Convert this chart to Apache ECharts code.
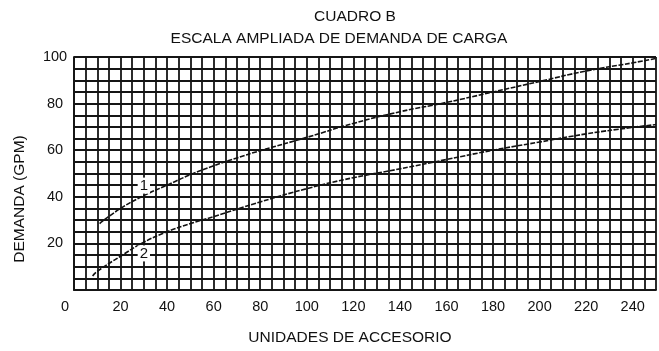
<!DOCTYPE html>
<html>
<head>
<meta charset="utf-8">
<script src="https://cdn.jsdelivr.net/npm/echarts@6/dist/echarts.min.js"></script>
<style>
  html, body { margin: 0; padding: 0; background: #fff; }
  #chart { width: 659px; height: 351px; }
</style>
</head>
<body>
<div id="chart"></div>
<script>
// Data
var titleText = 'CUADRO B';
var subtitleText = 'ESCALA AMPLIADA DE DEMANDA DE CARGA';
var xAxisName = 'UNIDADES DE ACCESORIO';
var yAxisName = 'DEMANDA (GPM)';

var curve1X = [11, 20, 30, 40, 50, 60, 70, 80, 100, 120, 140, 160, 180, 200, 220, 240, 250];
var curve1Y = [28.5, 35, 40.5, 45, 49.5, 53.3, 56.7, 59.8, 65.5, 71.5, 76.5, 80.5, 85, 89.5, 94, 97.5, 99.4];

var curve2X = [8, 10, 20, 30, 40, 50, 60, 70, 80, 100, 120, 140, 160, 180, 200, 220, 240, 250];
var curve2Y = [6, 8, 14.5, 20.5, 25, 28.5, 31.5, 34.7, 37.8, 43.5, 48.2, 52, 56, 60, 63.5, 67, 69.8, 71];

var curveLabels = ['1', '2'];
var curveLabelPos = [[30, 44.8], [30, 15.7]];

var chart = echarts.init(document.getElementById('chart'), null, { renderer: 'canvas' });

var gridColor = '#151515';
var textColor = '#111';
var font = 'Liberation Sans, Arial, sans-serif';

function pairs(xs, ys) {
  return xs.map(function (x, i) { return [x, ys[i]]; });
}

function curveMark(i) {
  return {
    symbol: 'rect', symbolSize: 0, silent: true,
    label: {
      show: true, position: 'inside', formatter: curveLabels[i],
      color: textColor, fontSize: 15, fontFamily: font,
      backgroundColor: '#fff', padding: [1, 2, 0, 2]
    },
    data: [{ coord: curveLabelPos[i] }]
  };
}

chart.setOption({
  animation: false,
  backgroundColor: '#fff',
  grid: { left: 74, right: 0, top: 57, bottom: 59, containLabel: false },
  xAxis: {
    type: 'value', min: 0, max: 250, interval: 5,
    name: xAxisName, nameLocation: 'middle', nameGap: 40,
    nameTextStyle: { fontSize: 15.5, color: textColor, fontFamily: font, padding: [0, 30, 0, 0] },
    axisLine: { show: true, onZero: false, lineStyle: { color: gridColor, width: 1.8 } },
    axisTick: { show: false },
    splitLine: { show: true, lineStyle: { color: gridColor, width: 1.8 } },
    axisLabel: {
      margin: 9, fontSize: 14.5, color: textColor, fontFamily: font,
      showMaxLabel: true,
      formatter: function (v) {
        if (v === 0) return '{z|0}';
        return (v % 20 === 0) ? String(v) : '';
      },
      rich: { z: { fontSize: 14.5, color: textColor, fontFamily: font, padding: [0, 18, 6, 0] } }
    }
  },
  yAxis: {
    type: 'value', min: 0, max: 100, interval: 5,
    axisLine: { show: true, onZero: false, lineStyle: { color: gridColor, width: 1.8 } },
    axisTick: { show: false },
    splitLine: { show: true, lineStyle: { color: gridColor, width: 1.8 } },
    axisLabel: {
      margin: 19, align: 'center', fontSize: 14.5, color: textColor, fontFamily: font,
      formatter: function (v) {
        return (v > 0 && v % 20 === 0) ? String(v) : '';
      }
    }
  },
  graphic: [
    { type: 'text', x: 355, y: 17,
      style: { text: titleText, fill: textColor, font: '15.5px ' + font,
               textAlign: 'center', textVerticalAlign: 'middle' } },
    { type: 'text', x: 339, y: 39,
      style: { text: subtitleText, fill: textColor, font: '15.5px ' + font,
               textAlign: 'center', textVerticalAlign: 'middle' } },
    { type: 'text', x: 20, y: 199, rotation: Math.PI / 2,
      style: { text: yAxisName, fill: textColor, font: '15.5px ' + font,
               textAlign: 'center', textVerticalAlign: 'middle' } }
  ],
  series: [
    {
      type: 'line', smooth: true, showSymbol: false, symbol: 'none',
      lineStyle: { color: '#111', width: 1.6, type: [5, 1.5] },
      data: pairs(curve1X, curve1Y),
      markPoint: curveMark(0),
      z: 3
    },
    {
      type: 'line', smooth: true, showSymbol: false, symbol: 'none',
      lineStyle: { color: '#111', width: 1.6, type: [5, 1.5] },
      data: pairs(curve2X, curve2Y),
      markPoint: curveMark(1),
      z: 3
    }
  ]
});
</script>
</body>
</html>
